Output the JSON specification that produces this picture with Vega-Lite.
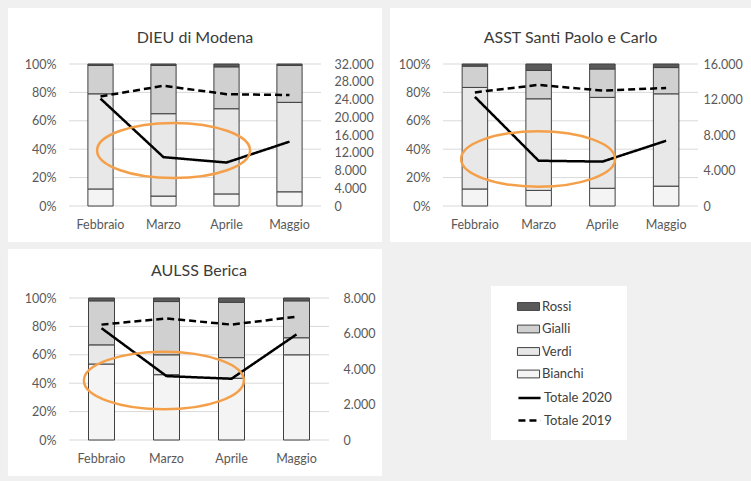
{
  "$schema": "https://vega.github.io/schema/vega-lite/v6.json",
  "background": "#f0f0f0",
  "padding": {"left": 7, "top": 8, "right": 0, "bottom": 6},
  "config": {
    "font": "Lato",
    "locale": {"number": {"decimal": ",", "thousands": ".", "grouping": [3], "currency": ["€", ""]}},
    "view": {"stroke": null},
    "axis": {"domain": false, "ticks": false, "grid": false, "labelFont": "Lato", "labelFontSize": 12.5, "labelColor": "#595959"},
    "legend": {
      "orient": "none", "legendX": 421, "legendY": 221, "title": null,
      "padding": 14,
      "symbolType": "M-1.7,-0.6H1.7V0.6H-1.7Z", "symbolSize": 169,
      "symbolOffset": 17.5, "labelOffset": 6.5, "rowPadding": 7.6,
      "labelFont": "Lato", "labelFontSize": 13, "labelColor": "#404040"
    }
  },
  "datasets": {
    "barre": [
      {"pannello": "DIEU di Modena", "mese": "Febbraio", "serie": "Bianchi", "quota": 12},
      {"pannello": "DIEU di Modena", "mese": "Febbraio", "serie": "Verdi", "quota": 67},
      {"pannello": "DIEU di Modena", "mese": "Febbraio", "serie": "Gialli", "quota": 20},
      {"pannello": "DIEU di Modena", "mese": "Febbraio", "serie": "Rossi", "quota": 1},
      {"pannello": "DIEU di Modena", "mese": "Marzo", "serie": "Bianchi", "quota": 7},
      {"pannello": "DIEU di Modena", "mese": "Marzo", "serie": "Verdi", "quota": 58},
      {"pannello": "DIEU di Modena", "mese": "Marzo", "serie": "Gialli", "quota": 34},
      {"pannello": "DIEU di Modena", "mese": "Marzo", "serie": "Rossi", "quota": 1},
      {"pannello": "DIEU di Modena", "mese": "Aprile", "serie": "Bianchi", "quota": 8.5},
      {"pannello": "DIEU di Modena", "mese": "Aprile", "serie": "Verdi", "quota": 60},
      {"pannello": "DIEU di Modena", "mese": "Aprile", "serie": "Gialli", "quota": 29.5},
      {"pannello": "DIEU di Modena", "mese": "Aprile", "serie": "Rossi", "quota": 2},
      {"pannello": "DIEU di Modena", "mese": "Maggio", "serie": "Bianchi", "quota": 10},
      {"pannello": "DIEU di Modena", "mese": "Maggio", "serie": "Verdi", "quota": 63},
      {"pannello": "DIEU di Modena", "mese": "Maggio", "serie": "Gialli", "quota": 26},
      {"pannello": "DIEU di Modena", "mese": "Maggio", "serie": "Rossi", "quota": 1},
      {"pannello": "ASST Santi Paolo e Carlo", "mese": "Febbraio", "serie": "Bianchi", "quota": 12},
      {"pannello": "ASST Santi Paolo e Carlo", "mese": "Febbraio", "serie": "Verdi", "quota": 71.5},
      {"pannello": "ASST Santi Paolo e Carlo", "mese": "Febbraio", "serie": "Gialli", "quota": 15},
      {"pannello": "ASST Santi Paolo e Carlo", "mese": "Febbraio", "serie": "Rossi", "quota": 1.5},
      {"pannello": "ASST Santi Paolo e Carlo", "mese": "Marzo", "serie": "Bianchi", "quota": 11},
      {"pannello": "ASST Santi Paolo e Carlo", "mese": "Marzo", "serie": "Verdi", "quota": 64.5},
      {"pannello": "ASST Santi Paolo e Carlo", "mese": "Marzo", "serie": "Gialli", "quota": 20},
      {"pannello": "ASST Santi Paolo e Carlo", "mese": "Marzo", "serie": "Rossi", "quota": 4.5},
      {"pannello": "ASST Santi Paolo e Carlo", "mese": "Aprile", "serie": "Bianchi", "quota": 12.5},
      {"pannello": "ASST Santi Paolo e Carlo", "mese": "Aprile", "serie": "Verdi", "quota": 64},
      {"pannello": "ASST Santi Paolo e Carlo", "mese": "Aprile", "serie": "Gialli", "quota": 20},
      {"pannello": "ASST Santi Paolo e Carlo", "mese": "Aprile", "serie": "Rossi", "quota": 3.5},
      {"pannello": "ASST Santi Paolo e Carlo", "mese": "Maggio", "serie": "Bianchi", "quota": 14},
      {"pannello": "ASST Santi Paolo e Carlo", "mese": "Maggio", "serie": "Verdi", "quota": 65},
      {"pannello": "ASST Santi Paolo e Carlo", "mese": "Maggio", "serie": "Gialli", "quota": 18.5},
      {"pannello": "ASST Santi Paolo e Carlo", "mese": "Maggio", "serie": "Rossi", "quota": 2.5},
      {"pannello": "AULSS Berica", "mese": "Febbraio", "serie": "Bianchi", "quota": 53.5},
      {"pannello": "AULSS Berica", "mese": "Febbraio", "serie": "Verdi", "quota": 13.5},
      {"pannello": "AULSS Berica", "mese": "Febbraio", "serie": "Gialli", "quota": 31},
      {"pannello": "AULSS Berica", "mese": "Febbraio", "serie": "Rossi", "quota": 2},
      {"pannello": "AULSS Berica", "mese": "Marzo", "serie": "Bianchi", "quota": 46},
      {"pannello": "AULSS Berica", "mese": "Marzo", "serie": "Verdi", "quota": 14},
      {"pannello": "AULSS Berica", "mese": "Marzo", "serie": "Gialli", "quota": 37.5},
      {"pannello": "AULSS Berica", "mese": "Marzo", "serie": "Rossi", "quota": 2.5},
      {"pannello": "AULSS Berica", "mese": "Aprile", "serie": "Bianchi", "quota": 43.5},
      {"pannello": "AULSS Berica", "mese": "Aprile", "serie": "Verdi", "quota": 14.5},
      {"pannello": "AULSS Berica", "mese": "Aprile", "serie": "Gialli", "quota": 39},
      {"pannello": "AULSS Berica", "mese": "Aprile", "serie": "Rossi", "quota": 3},
      {"pannello": "AULSS Berica", "mese": "Maggio", "serie": "Bianchi", "quota": 60},
      {"pannello": "AULSS Berica", "mese": "Maggio", "serie": "Verdi", "quota": 12},
      {"pannello": "AULSS Berica", "mese": "Maggio", "serie": "Gialli", "quota": 26},
      {"pannello": "AULSS Berica", "mese": "Maggio", "serie": "Rossi", "quota": 2}
    ],
    "totali": [
      {"pannello": "DIEU di Modena", "mese": "Febbraio", "serie": "Totale 2020", "valore": 24200},
      {"pannello": "DIEU di Modena", "mese": "Marzo", "serie": "Totale 2020", "valore": 11000},
      {"pannello": "DIEU di Modena", "mese": "Aprile", "serie": "Totale 2020", "valore": 9800},
      {"pannello": "DIEU di Modena", "mese": "Maggio", "serie": "Totale 2020", "valore": 14500},
      {"pannello": "DIEU di Modena", "mese": "Febbraio", "serie": "Totale 2019", "valore": 24700},
      {"pannello": "DIEU di Modena", "mese": "Marzo", "serie": "Totale 2019", "valore": 27100},
      {"pannello": "DIEU di Modena", "mese": "Aprile", "serie": "Totale 2019", "valore": 25200},
      {"pannello": "DIEU di Modena", "mese": "Maggio", "serie": "Totale 2019", "valore": 25000},
      {"pannello": "ASST Santi Paolo e Carlo", "mese": "Febbraio", "serie": "Totale 2020", "valore": 12300},
      {"pannello": "ASST Santi Paolo e Carlo", "mese": "Marzo", "serie": "Totale 2020", "valore": 5100},
      {"pannello": "ASST Santi Paolo e Carlo", "mese": "Aprile", "serie": "Totale 2020", "valore": 5000},
      {"pannello": "ASST Santi Paolo e Carlo", "mese": "Maggio", "serie": "Totale 2020", "valore": 7350},
      {"pannello": "ASST Santi Paolo e Carlo", "mese": "Febbraio", "serie": "Totale 2019", "valore": 12800},
      {"pannello": "ASST Santi Paolo e Carlo", "mese": "Marzo", "serie": "Totale 2019", "valore": 13650},
      {"pannello": "ASST Santi Paolo e Carlo", "mese": "Aprile", "serie": "Totale 2019", "valore": 13000},
      {"pannello": "ASST Santi Paolo e Carlo", "mese": "Maggio", "serie": "Totale 2019", "valore": 13300},
      {"pannello": "AULSS Berica", "mese": "Febbraio", "serie": "Totale 2020", "valore": 6300},
      {"pannello": "AULSS Berica", "mese": "Marzo", "serie": "Totale 2020", "valore": 3600},
      {"pannello": "AULSS Berica", "mese": "Aprile", "serie": "Totale 2020", "valore": 3450},
      {"pannello": "AULSS Berica", "mese": "Maggio", "serie": "Totale 2020", "valore": 5950},
      {"pannello": "AULSS Berica", "mese": "Febbraio", "serie": "Totale 2019", "valore": 6500},
      {"pannello": "AULSS Berica", "mese": "Marzo", "serie": "Totale 2019", "valore": 6850},
      {"pannello": "AULSS Berica", "mese": "Aprile", "serie": "Totale 2019", "valore": 6500},
      {"pannello": "AULSS Berica", "mese": "Maggio", "serie": "Totale 2019", "valore": 6950}
    ],
    "griglia": [{"livello": 0}, {"livello": 0.2}, {"livello": 0.4}, {"livello": 0.6}, {"livello": 0.8}, {"livello": 1}]
  },
  "spacing": 6,
  "resolve": {"scale": {"color": "shared", "strokeDash": "shared"}, "legend": {"color": "shared", "strokeDash": "shared"}},
  "vconcat": [
    {
      "spacing": 7,
      "hconcat": [
        {
          "width": 252, "height": 142,
          "resolve": {"scale": {"x": "independent", "y": "independent"}},
          "layer": [
            {
              "data": {"values": [{"pannello": "DIEU di Modena"}]},
              "mark": {"type": "rect", "fill": "white", "clip": false},
              "encoding": {
                "x": {"datum": -0.242, "type": "quantitative", "scale": {"domain": [0, 1], "nice": false, "zero": false}, "axis": null},
                "x2": {"datum": 1.242},
                "y": {"datum": -0.254, "type": "quantitative", "scale": {"domain": [0, 1], "nice": false, "zero": false}, "axis": null},
                "y2": {"datum": 1.394}
              }
            },
            {
              "data": {"values": [{"pannello": "DIEU di Modena"}]},
              "mark": {"type": "text", "fontSize": 16, "color": "#3c3c3c", "baseline": "alphabetic", "align": "center", "clip": false},
              "encoding": {
                "x": {"datum": 0.5, "type": "quantitative", "scale": {"domain": [0, 1], "nice": false, "zero": false}, "axis": null},
                "y": {"datum": 1.148, "type": "quantitative", "scale": {"domain": [0, 1], "nice": false, "zero": false}, "axis": null},
                "text": {"field": "pannello"}
              }
            },
            {
              "data": {"name": "griglia"},
              "mark": {"type": "rule", "color": "#d9d9d9", "strokeWidth": 1},
              "encoding": {
                "y": {"field": "livello", "type": "quantitative", "scale": {"domain": [0, 1], "nice": false}, "axis": null}
              }
            },
            {
              "data": {"name": "barre"},
              "transform": [
                {"filter": "datum.pannello === 'DIEU di Modena'"},
                {"calculate": "indexof(['Bianchi','Verdi','Gialli','Rossi'], datum.serie)", "as": "ordine"}
              ],
              "mark": {"type": "bar", "stroke": "#404040", "strokeWidth": 1},
              "encoding": {
                "x": {"field": "mese", "type": "nominal", "sort": ["Febbraio", "Marzo", "Aprile", "Maggio"], "scale": {"type": "band", "domain": ["Febbraio", "Marzo", "Aprile", "Maggio"], "paddingInner": 0.6, "paddingOuter": 0.3}, "axis": {"orient": "bottom", "title": null, "labelAngle": 0, "labelPadding": 12, "zindex": 1}},
                "y": {"field": "quota", "type": "quantitative", "stack": "normalize", "scale": {"domain": [0, 1], "nice": false}, "axis": {"orient": "left", "title": null, "values": [0, 0.2, 0.4, 0.6, 0.8, 1], "format": ".0%", "labelPadding": 13, "zindex": 1}},
                "order": {"field": "ordine", "type": "quantitative"},
                "color": {
                  "field": "serie", "type": "nominal",
                  "scale": {"domain": ["Rossi", "Gialli", "Verdi", "Bianchi"], "range": ["#5a5a5a", "#d0d0d0", "#e8e8e8", "#f4f4f4"]},
                  "legend": {"symbolStrokeColor": "#404040", "symbolStrokeWidth": 1, "rowPadding": 8.5, "legendY": 221.5}
                }
              }
            },
            {
              "data": {"name": "totali"},
              "transform": [{"filter": "datum.pannello === 'DIEU di Modena'"}],
              "mark": {"type": "line", "strokeWidth": 2.5, "stroke": "#000000"},
              "encoding": {
                "x": {"field": "mese", "type": "nominal", "sort": ["Febbraio", "Marzo", "Aprile", "Maggio"], "scale": {"type": "band", "domain": ["Febbraio", "Marzo", "Aprile", "Maggio"], "paddingInner": 0.6, "paddingOuter": 0.3}, "axis": null},
                "y": {"field": "valore", "type": "quantitative", "scale": {"domain": [0, 32000], "nice": false}, "axis": {"orient": "right", "title": null, "values": [0, 4000, 8000, 12000, 16000, 20000, 24000, 28000, 32000], "format": ",.0f", "labelPadding": 13, "zindex": 1}},
                "strokeDash": {
                  "field": "serie", "type": "nominal",
                  "scale": {"domain": ["Totale 2020", "Totale 2019"], "range": [[1, 0], [7, 4]]},
                  "legend": {"legendY": 312, "symbolType": "M-1.7,0H1.7", "symbolStrokeColor": "#000000", "symbolStrokeWidth": 2.5}
                }
              }
            },
            {
              "data": {"values": [{"pannello": "DIEU di Modena"}]},
              "mark": {"type": "point", "shape": "M-1,0C-1,-0.199,-0.552,-0.36,0,-0.36C0.552,-0.36,1,-0.199,1,0C1,0.199,0.552,0.36,0,0.36C-0.552,0.36,-1,0.199,-1,0Z", "size": 23409, "filled": false, "stroke": "#f4a04a", "strokeWidth": 2.5, "opacity": 1, "clip": false},
              "encoding": {
                "x": {"datum": 0.415, "type": "quantitative", "scale": {"domain": [0, 1], "nice": false, "zero": false}, "axis": null},
                "y": {"datum": 0.391, "type": "quantitative", "scale": {"domain": [0, 1], "nice": false, "zero": false}, "axis": null}
              }
            }
          ]
        },
        {
          "width": 255, "height": 142,
          "resolve": {"scale": {"x": "independent", "y": "independent"}},
          "layer": [
            {
              "data": {"values": [{"pannello": "ASST Santi Paolo e Carlo"}]},
              "mark": {"type": "rect", "fill": "white", "clip": false},
              "encoding": {
                "x": {"datum": -0.208, "type": "quantitative", "scale": {"domain": [0, 1], "nice": false, "zero": false}, "axis": null},
                "x2": {"datum": 1.22},
                "y": {"datum": -0.254, "type": "quantitative", "scale": {"domain": [0, 1], "nice": false, "zero": false}, "axis": null},
                "y2": {"datum": 1.394}
              }
            },
            {
              "data": {"values": [{"pannello": "ASST Santi Paolo e Carlo"}]},
              "mark": {"type": "text", "fontSize": 16, "color": "#3c3c3c", "baseline": "alphabetic", "align": "center", "clip": false},
              "encoding": {
                "x": {"datum": 0.5, "type": "quantitative", "scale": {"domain": [0, 1], "nice": false, "zero": false}, "axis": null},
                "y": {"datum": 1.148, "type": "quantitative", "scale": {"domain": [0, 1], "nice": false, "zero": false}, "axis": null},
                "text": {"field": "pannello"}
              }
            },
            {
              "data": {"name": "griglia"},
              "mark": {"type": "rule", "color": "#d9d9d9", "strokeWidth": 1},
              "encoding": {
                "y": {"field": "livello", "type": "quantitative", "scale": {"domain": [0, 1], "nice": false}, "axis": null}
              }
            },
            {
              "data": {"name": "barre"},
              "transform": [
                {"filter": "datum.pannello === 'ASST Santi Paolo e Carlo'"},
                {"calculate": "indexof(['Bianchi','Verdi','Gialli','Rossi'], datum.serie)", "as": "ordine"}
              ],
              "mark": {"type": "bar", "stroke": "#404040", "strokeWidth": 1},
              "encoding": {
                "x": {"field": "mese", "type": "nominal", "sort": ["Febbraio", "Marzo", "Aprile", "Maggio"], "scale": {"type": "band", "domain": ["Febbraio", "Marzo", "Aprile", "Maggio"], "paddingInner": 0.6, "paddingOuter": 0.3}, "axis": {"orient": "bottom", "title": null, "labelAngle": 0, "labelPadding": 12, "zindex": 1}},
                "y": {"field": "quota", "type": "quantitative", "stack": "normalize", "scale": {"domain": [0, 1], "nice": false}, "axis": {"orient": "left", "title": null, "values": [0, 0.2, 0.4, 0.6, 0.8, 1], "format": ".0%", "labelPadding": 13, "zindex": 1}},
                "order": {"field": "ordine", "type": "quantitative"},
                "color": {
                  "field": "serie", "type": "nominal",
                  "scale": {"domain": ["Rossi", "Gialli", "Verdi", "Bianchi"], "range": ["#5a5a5a", "#d0d0d0", "#e8e8e8", "#f4f4f4"]},
                  "legend": {"symbolStrokeColor": "#404040", "symbolStrokeWidth": 1, "rowPadding": 8.5, "legendY": 221.5}
                }
              }
            },
            {
              "data": {"name": "totali"},
              "transform": [{"filter": "datum.pannello === 'ASST Santi Paolo e Carlo'"}],
              "mark": {"type": "line", "strokeWidth": 2.5, "stroke": "#000000"},
              "encoding": {
                "x": {"field": "mese", "type": "nominal", "sort": ["Febbraio", "Marzo", "Aprile", "Maggio"], "scale": {"type": "band", "domain": ["Febbraio", "Marzo", "Aprile", "Maggio"], "paddingInner": 0.6, "paddingOuter": 0.3}, "axis": null},
                "y": {"field": "valore", "type": "quantitative", "scale": {"domain": [0, 16000], "nice": false}, "axis": {"orient": "right", "title": null, "values": [0, 4000, 8000, 12000, 16000], "format": ",.0f", "labelPadding": 5, "zindex": 1}},
                "strokeDash": {
                  "field": "serie", "type": "nominal",
                  "scale": {"domain": ["Totale 2020", "Totale 2019"], "range": [[1, 0], [7, 4]]},
                  "legend": {"legendY": 312, "symbolType": "M-1.7,0H1.7", "symbolStrokeColor": "#000000", "symbolStrokeWidth": 2.5}
                }
              }
            },
            {
              "data": {"values": [{"pannello": "ASST Santi Paolo e Carlo"}]},
              "mark": {"type": "point", "shape": "M-1,0C-1,-0.199,-0.552,-0.36,0,-0.36C0.552,-0.36,1,-0.199,1,0C1,0.199,0.552,0.36,0,0.36C-0.552,0.36,-1,0.199,-1,0Z", "size": 23716, "filled": false, "stroke": "#f4a04a", "strokeWidth": 2.5, "opacity": 1, "clip": false},
              "encoding": {
                "x": {"datum": 0.373, "type": "quantitative", "scale": {"domain": [0, 1], "nice": false, "zero": false}, "axis": null},
                "y": {"datum": 0.331, "type": "quantitative", "scale": {"domain": [0, 1], "nice": false, "zero": false}, "axis": null}
              }
            }
          ]
        }
      ]
    },
    {
      "spacing": 108,
      "hconcat": [
        {
          "width": 260, "height": 142,
          "resolve": {"scale": {"x": "independent", "y": "independent"}},
          "layer": [
            {
              "data": {"values": [{"pannello": "AULSS Berica"}]},
              "mark": {"type": "rect", "fill": "white", "clip": false},
              "encoding": {
                "x": {"datum": -0.235, "type": "quantitative", "scale": {"domain": [0, 1], "nice": false, "zero": false}, "axis": null},
                "x2": {"datum": 1.204},
                "y": {"datum": -0.254, "type": "quantitative", "scale": {"domain": [0, 1], "nice": false, "zero": false}, "axis": null},
                "y2": {"datum": 1.345}
              }
            },
            {
              "data": {"values": [{"pannello": "AULSS Berica"}]},
              "mark": {"type": "text", "fontSize": 16, "color": "#3c3c3c", "baseline": "alphabetic", "align": "center", "clip": false},
              "encoding": {
                "x": {"datum": 0.5, "type": "quantitative", "scale": {"domain": [0, 1], "nice": false, "zero": false}, "axis": null},
                "y": {"datum": 1.155, "type": "quantitative", "scale": {"domain": [0, 1], "nice": false, "zero": false}, "axis": null},
                "text": {"field": "pannello"}
              }
            },
            {
              "data": {"name": "griglia"},
              "mark": {"type": "rule", "color": "#d9d9d9", "strokeWidth": 1},
              "encoding": {
                "y": {"field": "livello", "type": "quantitative", "scale": {"domain": [0, 1], "nice": false}, "axis": null}
              }
            },
            {
              "data": {"name": "barre"},
              "transform": [
                {"filter": "datum.pannello === 'AULSS Berica'"},
                {"calculate": "indexof(['Bianchi','Verdi','Gialli','Rossi'], datum.serie)", "as": "ordine"}
              ],
              "mark": {"type": "bar", "stroke": "#404040", "strokeWidth": 1},
              "encoding": {
                "x": {"field": "mese", "type": "nominal", "sort": ["Febbraio", "Marzo", "Aprile", "Maggio"], "scale": {"type": "band", "domain": ["Febbraio", "Marzo", "Aprile", "Maggio"], "paddingInner": 0.6, "paddingOuter": 0.3}, "axis": {"orient": "bottom", "title": null, "labelAngle": 0, "labelPadding": 12, "zindex": 1}},
                "y": {"field": "quota", "type": "quantitative", "stack": "normalize", "scale": {"domain": [0, 1], "nice": false}, "axis": {"orient": "left", "title": null, "values": [0, 0.2, 0.4, 0.6, 0.8, 1], "format": ".0%", "labelPadding": 13, "zindex": 1}},
                "order": {"field": "ordine", "type": "quantitative"},
                "color": {
                  "field": "serie", "type": "nominal",
                  "scale": {"domain": ["Rossi", "Gialli", "Verdi", "Bianchi"], "range": ["#5a5a5a", "#d0d0d0", "#e8e8e8", "#f4f4f4"]},
                  "legend": {"symbolStrokeColor": "#404040", "symbolStrokeWidth": 1, "rowPadding": 8.5, "legendY": 221.5}
                }
              }
            },
            {
              "data": {"name": "totali"},
              "transform": [{"filter": "datum.pannello === 'AULSS Berica'"}],
              "mark": {"type": "line", "strokeWidth": 2.5, "stroke": "#000000"},
              "encoding": {
                "x": {"field": "mese", "type": "nominal", "sort": ["Febbraio", "Marzo", "Aprile", "Maggio"], "scale": {"type": "band", "domain": ["Febbraio", "Marzo", "Aprile", "Maggio"], "paddingInner": 0.6, "paddingOuter": 0.3}, "axis": null},
                "y": {"field": "valore", "type": "quantitative", "scale": {"domain": [0, 8000], "nice": false}, "axis": {"orient": "right", "title": null, "values": [0, 2000, 4000, 6000, 8000], "format": ",.0f", "labelPadding": 14, "zindex": 1}},
                "strokeDash": {
                  "field": "serie", "type": "nominal",
                  "scale": {"domain": ["Totale 2020", "Totale 2019"], "range": [[1, 0], [7, 4]]},
                  "legend": {"legendY": 312, "symbolType": "M-1.7,0H1.7", "symbolStrokeColor": "#000000", "symbolStrokeWidth": 2.5}
                }
              }
            },
            {
              "data": {"values": [{"pannello": "AULSS Berica"}]},
              "mark": {"type": "point", "shape": "M-1,0C-1,-0.199,-0.552,-0.36,0,-0.36C0.552,-0.36,1,-0.199,1,0C1,0.199,0.552,0.36,0,0.36C-0.552,0.36,-1,0.199,-1,0Z", "size": 25600, "filled": false, "stroke": "#f4a04a", "strokeWidth": 2.5, "opacity": 1, "clip": false},
              "encoding": {
                "x": {"datum": 0.365, "type": "quantitative", "scale": {"domain": [0, 1], "nice": false, "zero": false}, "axis": null},
                "y": {"datum": 0.419, "type": "quantitative", "scale": {"domain": [0, 1], "nice": false, "zero": false}, "axis": null}
              }
            }
          ]
        },
        {
          "width": 136, "height": 142,
          "data": {"values": [{"riquadro": "legenda"}]},
          "mark": {"type": "rect", "fill": "white", "clip": false},
          "encoding": {
            "x": {"datum": 0, "type": "quantitative", "scale": {"domain": [0, 1], "nice": false, "zero": false}, "axis": null},
            "x2": {"datum": 1},
            "y": {"datum": 0, "type": "quantitative", "scale": {"domain": [0, 1], "nice": false, "zero": false}, "axis": null},
            "y2": {"datum": 1.085}
          }
        }
      ]
    }
  ]
}
